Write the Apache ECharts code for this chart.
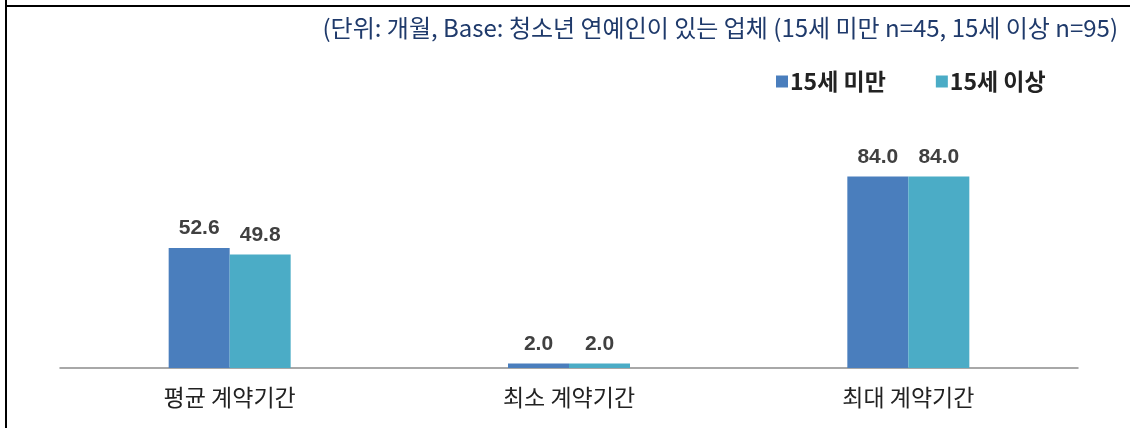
<!DOCTYPE html>
<html>
<head>
<meta charset="utf-8">
<script src="https://cdn.jsdelivr.net/npm/echarts@6/dist/echarts.min.js"></script>
<style>
  html, body { margin: 0; padding: 0; background: #fff; }
  #chart { width: 1130px; height: 428px; }
</style>
</head>
<body>
<div id="chart"></div>
<script>
// Contract periods (months) by age group of youth entertainers
const categories = ['평균 계약기간', '최소 계약기간', '최대 계약기간'];
const seriesNames = ['15세 미만', '15세 이상'];
const under15 = [52.6, 2.0, 84.0];
const over15 = [49.8, 2.0, 84.0];
const noteText = '(단위: 개월, Base: 청소년 연예인이 있는 업체 (15세 미만 n=45, 15세 이상 n=95)';

const colors = ['#4A7EBD', '#4BACC6'];
const kr = '"Noto Sans CJK KR", "Noto Sans", sans-serif';

const chart = echarts.init(document.getElementById('chart'), null, { renderer: 'canvas' });

const labelStyle = {
  show: true,
  position: 'top',
  distance: 9,
  formatter: p => p.value.toFixed(1),
  fontFamily: '"Liberation Sans", Arial, sans-serif',
  fontWeight: 'bold',
  fontSize: 21,
  color: '#404040'
};

chart.setOption({
  animation: false,
  backgroundColor: '#ffffff',
  color: colors,
  graphic: [
    { type: 'line', shape: { x1: 6, y1: 0, x2: 6, y2: 428 }, style: { stroke: '#000', lineWidth: 2 } },
    { type: 'line', shape: { x1: 5, y1: 6, x2: 1130, y2: 6 }, style: { stroke: '#000', lineWidth: 2 } },
    {
      type: 'text', right: 12, top: 16,
      style: { text: noteText, font: '24px ' + kr, fill: '#1F3A6B' }
    }
  ],
  legend: {
    data: seriesNames,
    top: 65,
    left: 771,
    itemWidth: 12,
    itemHeight: 12,
    itemGap: 50,
    icon: 'rect',
    textStyle: { fontFamily: kr, fontWeight: 'bold', fontSize: 23, color: '#222', padding: [0, 0, 0, -3] }
  },
  grid: { left: 60, right: 52, top: 140, bottom: 60, containLabel: false },
  xAxis: {
    type: 'category',
    data: categories,
    axisLine: { lineStyle: { color: '#8c8c8c', width: 1.5 } },
    axisTick: { show: false },
    axisLabel: { fontFamily: kr, fontSize: 23, color: '#222', margin: 18 }
  },
  yAxis: {
    type: 'value',
    min: 0,
    max: 100,
    show: false,
    splitLine: { show: false }
  },
  series: [
    { name: seriesNames[0], type: 'bar', data: under15, barWidth: 61, barGap: '0%', label: labelStyle },
    { name: seriesNames[1], type: 'bar', data: over15, barWidth: 61, barGap: '0%', label: labelStyle }
  ]
});
</script>
</body>
</html>
